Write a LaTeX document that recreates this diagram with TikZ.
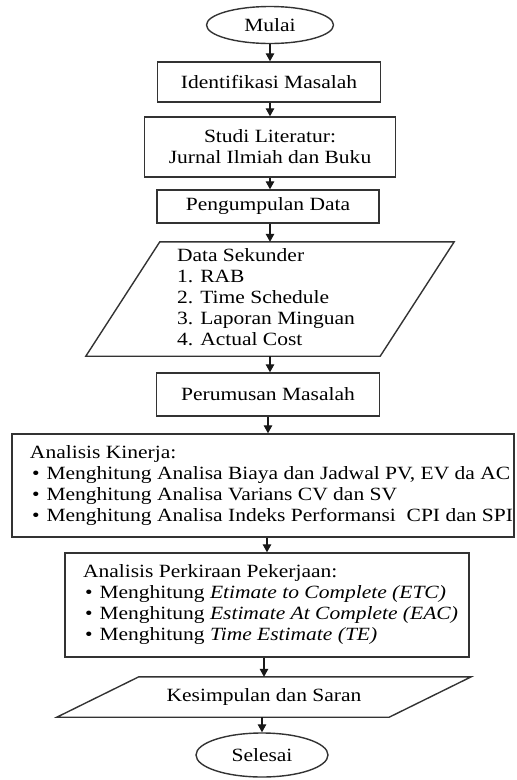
\documentclass[tikz,border=0pt]{standalone}
\usepackage{fontspec}
\setmainfont{Liberation Serif}[FakeStretch=1.15]
\usetikzlibrary{shapes.geometric,arrows.meta,calc}
\newcommand\paraoutline[2]{\draw[paraline] ($(#1.north west)+(#2,0)$) -- ($(#1.north east)+(#2,0)$) -- ($(#1.south east)-(#2,0)$) -- ($(#1.south west)-(#2,0)$) -- cycle;}
\newcommand\bul{\hspace*{2pt}\textbullet\hspace{7pt}}
\newcommand\leftblock[2]{\makebox[#1][l]{\begin{tabular}{@{}l@{}}#2\end{tabular}}}
\begin{document}
\begin{tikzpicture}[x=1pt,y=-1pt,
  every node/.style={font=\fontsize{18.7}{21}\selectfont, text=black},
  box/.style={draw=black!80, line width=1.4pt, rectangle, inner sep=0pt},
  oval/.style={draw=black!80, line width=1.4pt, ellipse, inner sep=0pt},
  para/.style={rectangle, inner sep=0pt},
  paraline/.style={draw=black!80, line width=1.4pt, line join=miter},
  arr/.style={-{Triangle[width=8.5pt,length=8pt]}, line width=1.3pt, draw=black!90},
  ]
\useasboundingbox (0,0) rectangle (517,780);
\node[oval, minimum width=127pt, minimum height=37pt] (mulai) at (270,25) {Mulai};
\node[box, minimum width=223pt, minimum height=40pt] (iden) at (269,82) {Identifikasi Masalah};
\node[box, minimum width=251pt, minimum height=60pt, align=center] (studi) at (270,147) {Studi Literatur:\\Jurnal Ilmiah dan Buku};
\node[box, minimum width=222pt, minimum height=33pt] (kumpul) at (268,206.5) {Pengumpulan Data};
\node[para, minimum width=294pt, minimum height=114pt] (ds) at (270,299)
  {\leftblock{186pt}{Data Sekunder\\1. RAB\\2. Time Schedule\\3. Laporan Minguan\\4. Actual Cost}};
\paraoutline{ds}{37}
\node[box, minimum width=223pt, minimum height=43pt] (rumus) at (268,394.5) {Perumusan Masalah};
\node[box, minimum width=502pt, minimum height=103pt] (ak) at (263,485.5)
  {\leftblock{466pt}{Analisis Kinerja:\\
   \bul Menghitung Analisa Biaya dan Jadwal PV, EV da AC\\
   \bul Menghitung Analisa Varians CV dan SV\\
   \bul Menghitung Analisa Indeks Performansi\ \ CPI dan SPI}};
\node[box, minimum width=404pt, minimum height=104pt] (perk) at (267,605)
  {\leftblock{368pt}{Analisis Perkiraan Pekerjaan:\\
   \bul Menghitung \textit{Etimate to Complete (ETC)}\\
   \bul Menghitung \textit{Estimate At Complete (EAC)}\\
   \bul Menghitung \textit{Time Estimate (TE)}}};
\node[para, minimum width=332pt, minimum height=40pt] (kes) at (264,697) {Kesimpulan dan Saran};
\paraoutline{kes}{41}
\node[oval, minimum width=132pt, minimum height=44pt] (sel) at (262,755) {Selesai};

\draw[arr] (mulai.south) -- (mulai.south |- iden.north);
\draw[arr] (studi.north |- iden.south) -- (studi.north);
\draw[arr] (studi.south) -- (studi.south |- kumpul.north);
\draw[arr] (ds.north |- kumpul.south) -- (ds.north);
\draw[arr] (ds.south) -- (ds.south |- rumus.north);
\draw[arr] (rumus.south) -- (rumus.south |- ak.north);
\draw[arr] (perk.north |- ak.south) -- (perk.north);
\draw[arr] (kes.north |- perk.south) -- (kes.north);
\draw[arr] (sel.north |- kes.south) -- (sel.north);
\end{tikzpicture}
\end{document}
